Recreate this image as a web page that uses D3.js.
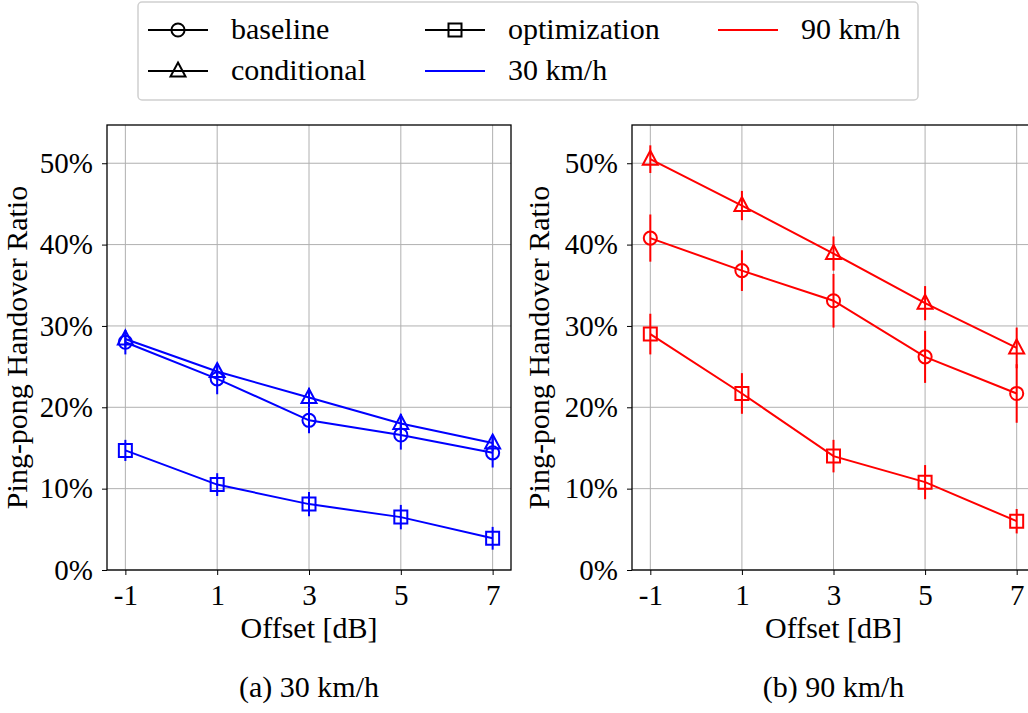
<!DOCTYPE html>
<html>
<head>
<meta charset="utf-8">
<script src="https://cdn.jsdelivr.net/npm/d3@7"></script>
<style>
  body { margin: 0; background: #fff; }
  svg { display: block; font-family: 'Liberation Serif', 'DejaVu Serif', serif; }
  .grid line { stroke: #b0b0b0; stroke-width: 1; }
  .axis path, .axis line { stroke: #000; }
  .axis text { font-size: 29px; fill: #000; font-family: 'Liberation Serif', serif; }
</style>
</head>
<body>
<div id="vis"></div>
<script>
'use strict'

// offsets on the x axis (dB)
const offsets = [-1, 1, 3, 5, 7]
const yTicks = [0, 0.1, 0.2, 0.3, 0.4, 0.5]

// 30 km/h
const baseline30 = [0.280, 0.235, 0.184, 0.166, 0.144]
const baseline30Err = [0.015, 0.019, 0.016, 0.018, 0.018]
const conditional30 = [0.284, 0.244, 0.212, 0.180, 0.156]
const conditional30Err = [0.010, 0.008, 0.012, 0.012, 0.010]
const optimization30 = [0.147, 0.105, 0.081, 0.065, 0.039]
const optimization30Err = [0.013, 0.014, 0.015, 0.015, 0.014]

// 90 km/h
const baseline90 = [0.408, 0.368, 0.331, 0.262, 0.217]
const baseline90Err = [0.029, 0.025, 0.033, 0.032, 0.036]
const conditional90 = [0.505, 0.448, 0.389, 0.328, 0.273]
const conditional90Err = [0.017, 0.018, 0.021, 0.021, 0.025]
const optimization90 = [0.290, 0.217, 0.140, 0.108, 0.060]
const optimization90Err = [0.025, 0.025, 0.020, 0.021, 0.015]

const markers = { baseline: 'circle', conditional: 'triangle', optimization: 'square' }

const panels = [
  { caption: '(a) 30 km/h', color: '#0000ff', left: 107, right: 511, labelX: 27,
    series: [
      { scheme: 'baseline', values: baseline30, errs: baseline30Err },
      { scheme: 'conditional', values: conditional30, errs: conditional30Err },
      { scheme: 'optimization', values: optimization30, errs: optimization30Err }
    ] },
  { caption: '(b) 90 km/h', color: '#ff0000', left: 632, right: 1035, labelX: 549,
    series: [
      { scheme: 'baseline', values: baseline90, errs: baseline90Err },
      { scheme: 'conditional', values: conditional90, errs: conditional90Err },
      { scheme: 'optimization', values: optimization90, errs: optimization90Err }
    ] }
]

const totalWidth = 1028
const totalHeight = 713
const plotTop = 125
const plotBottom = 570
const textSize = 30

const svg = d3.select('div#vis')
  .append('svg')
    .attr('width', totalWidth)
    .attr('height', totalHeight)

const y = d3.scaleLinear()
  .domain([0, 0.547])
  .range([plotBottom, plotTop])

function markerPath(type) {
  if (type === 'circle') return d3.symbol(d3.symbolCircle, 135)()
  if (type === 'square') {
    const h = 6.5
    return 'M' + -h + ',' + -h + 'H' + h + 'V' + h + 'H' + -h + 'Z'
  }
  // triangle pointing up
  return 'M0,-8.5L7.5,5.5L-7.5,5.5Z'
}

panels.forEach(p => {

  const x = d3.scaleLinear()
    .domain([-1.4, 7.4])
    .range([p.left, p.right])

  const g = svg.append('g')

  // grid
  const grid = g.append('g').classed('grid', true)
  grid.selectAll('line.v')
    .data(offsets)
    .join('line')
      .attr('x1', d => x(d)).attr('x2', d => x(d))
      .attr('y1', plotTop).attr('y2', plotBottom)
  grid.selectAll('line.h')
    .data(yTicks)
    .join('line')
      .attr('x1', p.left).attr('x2', p.right)
      .attr('y1', d => y(d)).attr('y2', d => y(d))

  // data
  p.series.forEach(s => {
    const pts = offsets.map((o, i) => ({ x: o, v: s.values[i], e: s.errs[i] }))
    const sg = g.append('g')

    sg.selectAll('line.err')
      .data(pts)
      .join('line')
        .attr('x1', d => x(d.x)).attr('x2', d => x(d.x))
        .attr('y1', d => y(d.v - d.e)).attr('y2', d => y(d.v + d.e))
        .attr('stroke', p.color)
        .attr('stroke-width', 2)

    sg.append('path')
      .datum(pts)
      .attr('d', d3.line().x(d => x(d.x)).y(d => y(d.v)))
      .attr('fill', 'none')
      .attr('stroke', p.color)
      .attr('stroke-width', 2)

    sg.selectAll('path.mk')
      .data(pts)
      .join('path')
        .attr('d', markerPath(markers[s.scheme]))
        .attr('transform', d => 'translate(' + x(d.x) + ',' + y(d.v) + ')')
        .attr('fill', 'none')
        .attr('stroke', p.color)
        .attr('stroke-width', 2)
  })

  // frame
  g.append('rect')
    .attr('x', p.left).attr('y', plotTop)
    .attr('width', p.right - p.left).attr('height', plotBottom - plotTop)
    .attr('fill', 'none')
    .attr('stroke', '#000')
    .attr('stroke-width', 1.3)

  // axes
  g.append('g')
    .classed('axis', true)
    .attr('transform', 'translate(0,' + plotBottom + ')')
    .call(d3.axisBottom(x).tickValues(offsets).tickSize(5).tickPadding(9).tickFormat(d => String(d)))
    .call(a => a.select('.domain').remove())

  g.append('g')
    .classed('axis', true)
    .attr('transform', 'translate(' + p.left + ',0)')
    .call(d3.axisLeft(y).tickValues(yTicks).tickSize(5).tickPadding(9).tickFormat(d3.format('.0%')))
    .call(a => a.select('.domain').remove())

  // axis labels
  const cx = (x(-1) + x(7)) / 2
  g.append('text')
    .attr('x', cx).attr('y', 638)
    .attr('text-anchor', 'middle')
    .attr('font-size', textSize)
    .text('Offset [dB]')

  g.append('text')
    .attr('transform', 'translate(' + p.labelX + ',' + ((plotTop + plotBottom) / 2) + ') rotate(-90)')
    .attr('text-anchor', 'middle')
    .attr('font-size', textSize)
    .text('Ping-pong Handover Ratio')

  g.append('text')
    .attr('x', cx).attr('y', 697)
    .attr('text-anchor', 'middle')
    .attr('font-size', textSize)
    .text(p.caption)
})

//
// LEGEND
//

const legendItems = [
  { label: 'baseline', marker: 'circle', color: '#000', col: 0, row: 0 },
  { label: 'conditional', marker: 'triangle', color: '#000', col: 0, row: 1 },
  { label: 'optimization', marker: 'square', color: '#000', col: 1, row: 0 },
  { label: '30 km/h', marker: null, color: '#0000ff', col: 1, row: 1 },
  { label: '90 km/h', marker: null, color: '#ff0000', col: 2, row: 0 }
]
const colX = [148, 425, 718]
const rowY = [30, 71]

const legend = svg.append('g')
legend.append('rect')
  .attr('x', 138).attr('y', 2)
  .attr('width', 780).attr('height', 98)
  .attr('rx', 4)
  .attr('fill', '#fff')
  .attr('stroke', '#d0d0d0')
  .attr('stroke-width', 1.5)

legendItems.forEach(it => {
  const lx = colX[it.col]
  const ly = rowY[it.row]
  legend.append('line')
    .attr('x1', lx).attr('x2', lx + 60)
    .attr('y1', ly).attr('y2', ly)
    .attr('stroke', it.color)
    .attr('stroke-width', 2)
  if (it.marker) {
    legend.append('path')
      .attr('d', markerPath(it.marker))
      .attr('transform', 'translate(' + (lx + 30) + ',' + ly + ')')
      .attr('fill', 'none')
      .attr('stroke', it.color)
      .attr('stroke-width', 2)
  }
  legend.append('text')
    .attr('x', lx + 83).attr('y', ly + 9)
    .attr('font-size', textSize)
    .text(it.label)
})
</script>
</body>
</html>
